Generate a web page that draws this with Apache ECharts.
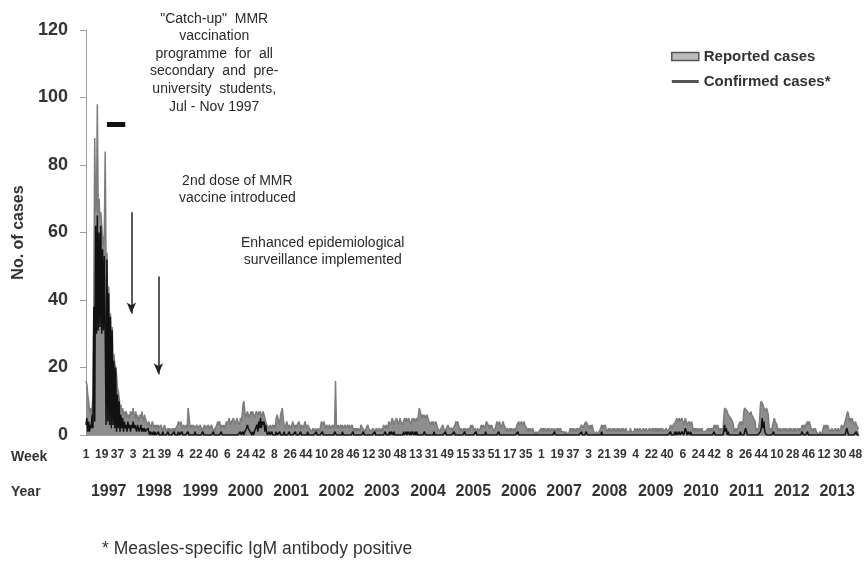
<!DOCTYPE html>
<html>
<head>
<meta charset="utf-8">
<script src="https://cdn.jsdelivr.net/npm/echarts@6/dist/echarts.min.js"></script>
<style>
  html, body { margin: 0; padding: 0; background: #fff; }
  #chart { width: 866px; height: 561px; }
</style>
</head>
<body>
<div id="chart"></div>
<script>
// Weekly measles notifications, 1997 - 2013 (epidemiological weeks)
const years = [1997, 1998, 1999, 2000, 2001, 2002, 2003, 2004, 2005, 2006, 2007, 2008, 2009, 2010, 2011, 2012, 2013];
const weeksPerYear = [52, 53, 52, 52, 52, 52, 53, 52, 52, 52, 52, 53, 52, 52, 52, 52, 52];
const yTicks = [0, 20, 40, 60, 80, 100, 120];

// Reported cases per week, one array per year
const reported1997 = [16,15,12,10,7,8,6,8,12,42, 88,66,68,98,66,70,64,66,62,58, 56,60,84,50,54,33,44,30,36,26, 32,22,24,21,20,18,14,13,11,8, 9,7,8,6,7,5,7,6,5,6, 5,7];
const reported1998 = [7,6,8,6,5,7, 5,6,4,5,6, 5,7,5,4,6,5,4, 4,3,4,3,2,3,4,3,2,3,2,3, 2,3,2,2,3,2,1,2,3,2,2,1, 2,1,2,2,1,2,1,2,1,2,2];
const reported1999 = [3,4,4,3,4,2, 2,3,2,2,3, 2, 8,8, 3,2, 3,2,3,2,2, 2,3,2,2,2,3,2,1,2,2,3,2,2,2,3,2,2,2,3,2,2,1,2,2, 3,4,3,4,3,2,3];
const reported2000 = [2,3,2,3, 4,3,4,5,4,3,4,4,5,4,3,4,5,4,4,3,5,4, 6,9,10,7, 5,6,7,6,5,6,7,6,7,6,5,6,7,7,6,7,6,7,5,6,7,6,5,4,3,3];
const reported2001 = [3,2,3,2,2,3,2,3,2, 5,6,5,4, 3,6,7,8, 5, 3,2,3,4,3,2,3,3,2,3,4,3,2, 3,2,3,3,4,3,2,3,3,2,3,4,3,2,3,3,2, 2,2,1,2];
const reported2002 = [2,1,2,2,1,2,2,1, 3,4,4,3,4,2, 2,3,2,2,3,2,2,2,3,2,3, 16, 3, 2,3,2,2,3,2,3,2,2,3,2,2,3,2,3,2,2,3,2, 1,2,1,2,1,2];
const reported2003 = [2,1,3,3,2, 2,2,1,2,2,3,2,2,1, 1,1,2,1,1,1,2,1,1,2,1,1,2,1, 3,3,2,3,3,2, 4,4,3,4,5,4,3,4,4,5,4,3,4,5,4,4,3,4,5];
const reported2004 = [4,5,4,4,5,4,3,4,5,4,5,4,4,5,4, 6,8,8,6, 5,6,5,6,5,5,6,5,4, 4,3,4,3,4,3,3,4,3,2, 2,2,1,2,2,3,2,2,1,2,2,3,2,2];
const reported2005 = [2,2,1,2,2, 3,4,3,4,3,2, 1,2,1,1,2,1,2,1,1,2,1, 2,3,2,3,2, 1,2,1,1,2,1,1,2, 3,2,3,3,2,3,4,4, 3,2,3,2,3,2,2,1,2];
const reported2006 = [3,4,3,3,4,3,2,3,4,3,3,2, 1,2,1,1,2,1,2,1,1,2,1,1, 3,3,4,3,3,4,4,3,4,3,3,2, 1,2,1,2,1,1,2,1, 0,1,0,1,0,1,1,1];
const reported2007 = [2,1,2,1,2,2,1, 2,1,2,1,1,2,2,1,2,1,1,2,1,2,1,2,1,1, 1,1,0,1,1,1,0,1, 2,1,2,1,2,2,1,2,1,2,1,2, 2,3,3,2,3,3,4];
const reported2008 = [4,3,3,2,3,2,3,2, 1,1,0,1,1,0,1,1, 2,3,2,3,2,3,2,2, 1,2,1,2,1,1,2,1,2,1,1,2,1,2,1,1,2,1,2,1,1,2,1, 1,1,1,2,1,1];
const reported2009 = [1,1,2,1,1, 2,1,1,2,1,1,1,2,1,1,2,1,1,1,2,1,1,2,1, 2,1,2,1,2,1,2,1,2,1,2, 1,1,1,2,1,1,1, 2,3,3,2,3,3, 3,4,5,4];
const reported2010 = [4,5,4,4,5,4,3,4,5,4, 3,3,4,4, 3,4,3, 1,2,1,2,1,2,1,1,2,1,2,1, 1,1,1,1,1, 2,1,2,1,2,1,2, 3,2,3,2,3,2, 1,2,1,2,1];
const reported2011 = [5,8,8,8,7,6, 6,6,5,5,4,3, 1,1,2,1,1, 3,3,4,3,4,3, 7,8,8,8,7,7, 7,6,7,6,6,5,5,4, 1,2,1,2, 4,9,10,10,9, 8,8,7,8,7,6];
const reported2012 = [2,1,2,1, 3,4,5,4,4,3, 1,2,1,2,1,1,2,1,2,1,2,1,1,2,1,2,1,1,2,1,2,1,1,2,1,2,1, 2,3,2,3,2,3, 3,4,3,4,3,3, 1,1,2];
const reported2013 = [1,2,1,1, 1,0,1,1,0,1, 2,3,2,3,2,3,2,2, 1,1,2,1,1,1,2,1,1,2,1,1, 2,3,3,2,3,3, 5,6,7,6, 4,5,4,5,4,4, 3,4,3,3,2,2];

// Laboratory-confirmed cases per week, one array per year
const confirmed1997 = [3,5,1,4,1,3,2,6,2,38, 4,62,30,65,31,60,32,62,30,55, 31,53,30,3,52,4,42,3,35,2, 31,3,22,2,20,1,12,2,10,1, 6,2,5,1,4,2,3,1,4,2, 3,1];
const confirmed1998 = [3,2,4,2,3,2,1,3,2,1, 2,3,1,2,1,2,1,1,1,2, 1,0,1,1,0,1,0,1,0,0, 0,1,0,0,0,0,1,0,0,0, 0,0,1,0,0,0,0,0,0,1, 0,0,0];
const confirmed1999 = [0,1,0,0,0,1,0,0,0,0, 0,0,1,0,0,0,0,0,0,0, 1,0,0,0,0,0,0,0,0,1, 0,0,0,0,0,0,0,0,0,0, 0,1,0,0,0,0,0,0,0,0, 1,0];
const confirmed2000 = [0,0,0,0,0,0,0,0,0,0, 0,0,0,0,0,0,0,0,0,0, 1,0, 0,1,0,1, 1,2,3,2,2,1, 1,0,1,0,1,1, 1,3,1,4,2,5,2,4,3,4,1,3,1,0];
const confirmed2001 = [0,1,0,0,1,0,0,0,0,1, 0,0,0,1,0,0,0,0,1,0, 0,0,0,0,1,0,0,0,0,0, 0,1,0,0,0,0,0,1,0,0, 0,0,0,0,0,1,0,0,0,0, 0,0];
const confirmed2002 = [0,0,0,1,0,0,0,0,0,0, 1,0,0,0,0,0,0,0,0,0, 0,0,0,0,1,1,0,0,0,0, 0,0,0,1,0,0,0,0,0,0, 0,0,0,0,0,1,0,0,0,0, 0,0];
const confirmed2003 = [0,0,0,0,0,1,0,0,0,0, 0,0,0,0,0,0,0,0,1,0, 0,0,0,0,0,0,0,0,0,0, 1,0,0,0,0,1,0,1,1,0, 1,0,0,0,0,0,0,0,0,0, 0,1,0];
const confirmed2004 = [0,1,0,1,1,0,1,0,1,1, 0,1,0,1,0,0,0,0,0,0, 0,0,1,0,0,0,0,0,0,0, 0,0,0,1,0,0,0,0,0,0, 0,0,0,0,0,0,1,0,0,0, 0,0];
const confirmed2005 = [0,0,0,0,1,0,0,0,0,0, 0,0,0,0,0,0,1,0,0,0, 0,0,0,0,0,0,0,0,0,1, 0,0,0,0,0,0,0,0,0,0, 1,0,0,0,0,0,0,0,0,0, 0,0];
const confirmed2006 = [0,0,0,1,0,0,0,0,0,0, 0,0,0,0,0,0,0,0,0,0, 0,0,0,0,0,1,0,0,0,0, 0,0,0,0,0,0,0,0,0,0, 0,0,0,0,0,0,0,0,0,0, 0,0];
const confirmed2007 = [0,0,0,0,0,0,0,0,0,0, 0,0,0,0,0,1,0,0,0,0, 0,0,0,0,0,0,0,0,0,0, 0,0,0,0,0,0,0,0,0,0, 0,0,0,0,0,0,1,0,0,0, 0,1];
const confirmed2008 = [1,0,0,0,0,0,0,0,0,0, 0,0,0,0,0,0,0,1,0,0, 0,0,0,0,0,0,0,0,0,0, 0,0,0,0,0,0,0,0,0,0, 0,0,0,0,0,0,0,0,0,0, 0,0,0];
const confirmed2009 = [0,0,0,0,0,0,0,0,0,0, 0,0,0,0,0,0,0,0,0,0, 0,0,0,0,0,0,0,0,0,0, 0,0,0,0,0,0,0,0,0,0, 0,0,0,1,0,0,0,0,1,0, 1,0];
const confirmed2010 = [0,1,0,0,1,1,0,1,2,1, 0,1,1,0,1,0,0,0,0,0, 0,0,0,0,0,0,0,0,0,0, 0,0,0,0,0,0,0,0,0,0, 0,1,0,0,0,0,0,0,0,0, 0,0];
const confirmed2011 = [1,3,1,2,0,1,0,0,0,0, 0,0,0,0,0,0,0,0,0,1, 0,0,0,0,1,2,1,0,0,0, 0,0,0,0,0,0,0,0,0,0, 0,0,1,2,5,2,4,1,1,0, 0,0];
const confirmed2012 = [0,0,0,0,0,1,0,0,0,0, 0,0,0,0,0,0,0,0,0,0, 0,0,0,0,0,0,0,0,0,0, 0,0,0,0,0,0,0,0,1,0, 0,0,0,0,1,0,0,0,0,0, 0,0];
const confirmed2013 = [0,0,0,0,0,0,0,0,0,0, 0,0,0,0,0,0,0,0,0,0, 0,0,0,0,0,0,0,0,0,0, 0,0,0,0,0,0,1,2,1,0, 0,0,0,0,0,0,0,0,1,0, 0,0];

const reported = [].concat(reported1997, reported1998, reported1999, reported2000, reported2001,
  reported2002, reported2003, reported2004, reported2005, reported2006, reported2007, reported2008,
  reported2009, reported2010, reported2011, reported2012, reported2013);
const confirmed = [].concat(confirmed1997, confirmed1998, confirmed1999, confirmed2000, confirmed2001,
  confirmed2002, confirmed2003, confirmed2004, confirmed2005, confirmed2006, confirmed2007, confirmed2008,
  confirmed2009, confirmed2010, confirmed2011, confirmed2012, confirmed2013);

// One category per epidemiological week, named "year-week"
const weeks = [];
years.forEach((y, k) => {
  for (let w = 1; w <= weeksPerYear[k]; w++) weeks.push(y + '-' + w);
});

// Annotation anchors (category index, value)
const catchUpBar = [[24, 92], [45, 92]];
const secondDoseArrow = [[52, 66], [52, 36]];
const surveillanceArrow = [[83, 47], [83, 18]];

const FONT = 'Arial, "Liberation Sans", sans-serif';
const INK = '#333';

const chart = echarts.init(document.getElementById('chart'), null, { renderer: 'canvas' });

const annotationText = (x, y, lines, size) => ({
  type: 'text', left: x, top: y,
  style: {
    text: lines.join('\n'), fill: '#2a2a2a', font: size + 'px ' + FONT,
    textAlign: 'center', lineHeight: 17.6
  }
});

chart.setOption({
  animation: false,
  backgroundColor: '#fff',
  grid: { left: 86, right: 7, top: 30, bottom: 126, containLabel: false },
  legend: {
    orient: 'vertical', left: 671, top: 49, itemGap: 10, padding: 0,
    itemWidth: 27, itemHeight: 8,
    textStyle: { fontFamily: FONT, fontSize: 15, fontWeight: 'bold', color: INK },
    data: [
      { name: 'Reported cases', icon: 'rect', itemStyle: { color: '#bcbcbc', borderColor: '#555', borderWidth: 1.5 } },
      { name: 'Confirmed cases*', icon: 'path://M0 0H27V3H0Z', itemStyle: { color: '#555', borderWidth: 0 } }
    ]
  },
  xAxis: [
    {
      type: 'category', data: weeks, boundaryGap: false,
      axisLine: { lineStyle: { color: '#a0a0a0', width: 1 } },
      axisTick: { show: false },
      axisLabel: {
        interval: 17, margin: 14, fontFamily: FONT, fontSize: 12, fontWeight: 'bold', color: INK,
        formatter: v => v.split('-')[1]
      },
      splitLine: { show: false }
    },
    {
      type: 'category', data: weeks, boundaryGap: false, position: 'bottom', offset: 41,
      axisLine: { show: false }, axisTick: { show: false },
      axisLabel: {
        interval: (i, v) => v.split('-')[1] === '27', margin: 8,
        fontFamily: FONT, fontSize: 16, fontWeight: 'bold', color: INK,
        formatter: v => v.split('-')[0]
      },
      splitLine: { show: false }
    }
  ],
  yAxis: {
    type: 'value', min: yTicks[0], max: yTicks[yTicks.length - 1], interval: 20,
    name: 'No. of cases', nameLocation: 'middle', nameRotate: 90, nameGap: 57,
    nameTextStyle: { fontFamily: FONT, fontSize: 16, fontWeight: 'bold', color: INK },
    axisLine: { show: true, lineStyle: { color: '#a0a0a0', width: 1 } },
    axisTick: { show: true, length: 6, lineStyle: { color: '#a0a0a0' } },
    axisLabel: { margin: 18, fontFamily: FONT, fontSize: 18, fontWeight: 'bold', color: INK },
    splitLine: { show: false }
  },
  series: [
    {
      name: 'Reported cases', type: 'line', data: reported, xAxisIndex: 0,
      symbol: 'none', z: 2,
      lineStyle: { color: '#7c7c7c', width: 1.5 },
      itemStyle: { color: '#8e8e8e' },
      areaStyle: { color: '#8e8e8e', opacity: 1 }
    },
    {
      name: 'Confirmed cases*', type: 'line', data: confirmed, xAxisIndex: 0,
      symbol: 'none', z: 3,
      lineStyle: { color: '#111', width: 1.5 },
      itemStyle: { color: '#111' },
      markLine: {
        silent: true, animation: false, label: { show: false },
        symbol: ['none', 'none'],
        data: [
          [{ coord: catchUpBar[0], lineStyle: { color: '#111', width: 5, type: 'solid' } },
           { coord: catchUpBar[1] }],
          [{ coord: secondDoseArrow[0], symbol: 'none', lineStyle: { color: '#222', width: 1.5, type: 'solid' } },
           { coord: secondDoseArrow[1], symbol: 'arrow', symbolSize: [7, 11] }],
          [{ coord: surveillanceArrow[0], symbol: 'none', lineStyle: { color: '#222', width: 1.5, type: 'solid' } },
           { coord: surveillanceArrow[1], symbol: 'arrow', symbolSize: [7, 11] }]
        ]
      }
    }
  ],
  graphic: [
    annotationText(150, 10, ['"Catch-up"  MMR', 'vaccination', 'programme  for  all', 'secondary  and  pre-', 'university  students,', 'Jul - Nov 1997'], 14),
    annotationText(179, 172, ['2nd dose of MMR', 'vaccine introduced'], 14),
    annotationText(241, 234, ['Enhanced epidemiological', 'surveillance implemented'], 14),
    { type: 'text', left: 11, top: 450, style: { text: 'Week', fill: INK, font: 'bold 14px ' + FONT } },
    { type: 'text', left: 11, top: 485, style: { text: 'Year', fill: INK, font: 'bold 14px ' + FONT } },
    { type: 'text', left: 102, top: 540, style: { text: '* Measles-specific IgM antibody positive', fill: INK, font: '17.5px ' + FONT } }
  ]
});
</script>
</body>
</html>
